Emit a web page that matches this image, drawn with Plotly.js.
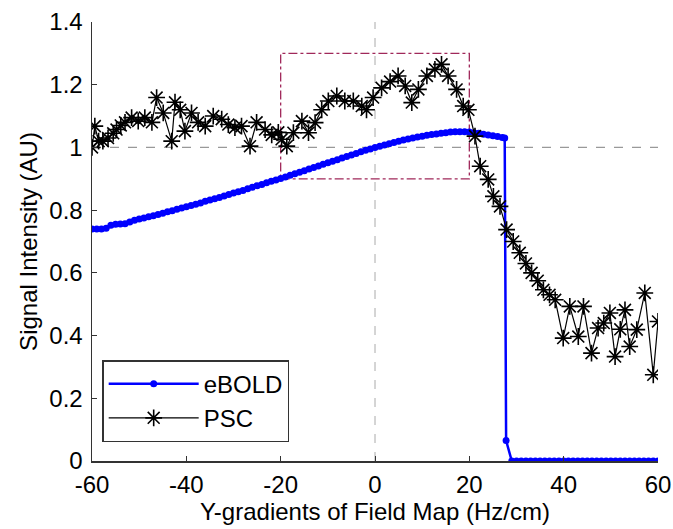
<!DOCTYPE html>
<html>
<head>
<meta charset="utf-8">
<script src="https://cdn.plot.ly/plotly-3.0.1.min.js"></script>
<style>html,body{margin:0;padding:0;background:#fff;}#chart{width:673px;height:529px;}</style>
</head>
<body>
<div id="chart"></div>
<script>
// ---- Data ----
const eboldX = [-60,-59,-58,-57,-56,-55,-54,-53,-52,-51,-50,-49,-48,-47,-46,-45,-44,-43,-42,-41,
  -40,-39,-38,-37,-36,-35,-34,-33,-32,-31,-30,-29,-28,-27,-26,-25,-24,-23,-22,-21,
  -20,-19,-18,-17,-16,-15,-14,-13,-12,-11,-10,-9,-8,-7,-6,-5,-4,-3,-2,-1,
  0,1,2,3,4,5,6,7,8,9,10,11,12,13,14,15,16,17,18,19,20,21,22,23,24,25,26,27,27.5,
  27.8,29,30,31,32,33,34,35,36,37,38,39,40,41,42,43,44,45,46,47,48,49,50,51,52,53,54,55,56,57,58,59,60];
const eboldY = [0.740,0.740,0.740,0.742,0.752,0.755,0.756,0.757,0.762,0.768,0.772,0.775,0.779,0.782,0.786,0.790,0.795,0.798,0.803,0.807,
  0.811,0.815,0.819,0.823,0.828,0.832,0.836,0.840,0.845,0.850,0.855,0.859,0.863,0.868,0.873,0.878,0.882,0.887,0.892,0.896,
  0.901,0.906,0.911,0.916,0.921,0.926,0.931,0.936,0.941,0.946,0.951,0.956,0.961,0.966,0.971,0.976,0.981,0.986,0.991,0.995,
  1.000,1.004,1.008,1.012,1.016,1.020,1.024,1.027,1.030,1.033,1.036,1.039,1.041,1.043,1.045,1.047,1.049,1.050,1.050,1.050,1.049,1.047,1.045,1.042,1.040,1.037,1.035,1.032,1.030,
  0.065,0,0,0,0,0,0,0,0,0,0,0,0,0,0,0,0,0,0,0,0,0,0,0,0,0,0,0,0,0,0,0,0];

const pscX = [-60,-59.4,-58.6,-57.7,-56.6,-55.5,-54.8,-53.9,-53,-51.6,-50.2,-48.8,-47.3,-46.3,-44.9,-43.1,-42.4,-41.3,-40.3,-38.9,
  -37.5,-36,-34.3,-32.5,-31.1,-29.7,-28.3,-26.5,-25.1,-23.3,-21.9,-20.5,-19.8,-18.7,-17.3,-15.5,-14.1,-12.7,-11.3,-9.9,
  -8.1,-6.4,-4.6,-2.8,-1.8,-0.4,1.4,3.2,4.9,6.4,7.8,9.2,11,12.7,14.1,15.5,17.3,18.7,19.8,21.2,
  22.3,24,25.1,26.5,27.9,29.3,30.7,32,33.2,34.5,35.7,37,38.2,39.9,41.3,43.1,44.2,45.9,47.3,48.5,
  49.8,50.9,52,53,54,55.5,57.2,59,60];
const pscY = [1.000,1.068,1.020,1.020,1.030,1.045,1.057,1.070,1.080,1.095,1.084,1.095,1.080,1.159,1.110,1.020,1.144,1.120,1.052,1.110,
  1.080,1.068,1.100,1.090,1.073,1.063,1.068,1.004,1.080,1.057,1.040,1.048,1.026,1.004,1.047,1.084,1.047,1.079,1.120,1.148,
  1.164,1.148,1.148,1.132,1.120,1.159,1.190,1.210,1.228,1.196,1.143,1.185,1.228,1.249,1.265,1.228,1.185,1.132,1.120,1.036,
  0.940,0.898,0.844,0.812,0.738,0.700,0.664,0.630,0.600,0.575,0.546,0.530,0.514,0.392,0.493,0.397,0.493,0.344,0.424,0.440,
  0.472,0.333,0.420,0.482,0.365,0.419,0.536,0.275,0.445];

const seriesNames = ['eBOLD', 'PSC'];
const xTicks = [-60, -40, -20, 0, 20, 40, 60];
const yTicks = [0, 0.2, 0.4, 0.6, 0.8, 1, 1.2, 1.4];
const yTickText = ['0', '0.2', '0.4', '0.6', '0.8', '1', '1.2', '1.4'];
const xTitle = 'Y-gradients of Field Map (Hz/cm)';
const yTitle = 'Signal Intensity (AU)';
// reference lines and zoom box (data units)
const refX = 0, refY = 1;
const boxX = [-20, 20], boxY = [0.9, 1.3];

const FONT = 'Liberation Sans, Arial, sans-serif';

const traces = [
  {
    x: eboldX, y: eboldY, name: seriesNames[0], type: 'scatter', mode: 'lines+markers',
    line: {color: '#0000ff', width: 2.5},
    marker: {color: '#0000ff', size: 7, symbol: 'circle'}
  },
  {
    x: pscX, y: pscY, name: seriesNames[1], type: 'scatter', mode: 'lines+markers',
    line: {color: '#000000', width: 1.2},
    marker: {symbol: 'asterisk-open', size: 14, color: '#000000', line: {color: '#000000', width: 1.6}}
  }
];

const layout = {
  width: 673, height: 529,
  margin: {l: 92, r: 15, t: 22, b: 68},
  paper_bgcolor: '#ffffff', plot_bgcolor: '#ffffff',
  font: {family: FONT, size: 24, color: '#000'},
  showlegend: true,
  legend: {
    x: 0.018, y: 0.23, xanchor: 'left', yanchor: 'top',
    bgcolor: '#ffffff', bordercolor: '#333333', borderwidth: 1.5,
    font: {family: FONT, size: 24, color: '#000'},
    itemwidth: 90
  },
  xaxis: {
    range: [-60, 60], tickvals: xTicks, ticktext: xTicks.map(String),
    showgrid: false, zeroline: false, showline: true, linecolor: '#333', linewidth: 1.5,
    ticks: 'inside', ticklen: 5, tickcolor: '#333', mirror: false,
    ticklabelstandoff: 2,
    tickfont: {family: FONT, size: 24, color: '#000'},
    title: {text: xTitle, font: {family: FONT, size: 24, color: '#000'}, standoff: 3}
  },
  yaxis: {
    range: [0, 1.4], tickvals: yTicks, ticktext: yTickText,
    showgrid: false, zeroline: false, showline: true, linecolor: '#333', linewidth: 1.5,
    ticks: 'inside', ticklen: 5, tickcolor: '#333', mirror: false,
    ticklabelstandoff: 3,
    tickfont: {family: FONT, size: 24, color: '#000'},
    title: {text: yTitle, font: {family: FONT, size: 24, color: '#000'}, standoff: 5}
  },
  shapes: [
    {type: 'line', xref: 'x', yref: 'y', x0: refX, x1: refX, y0: 0, y1: 1.4, layer: 'below',
     line: {color: '#aaaaaa', width: 1, dash: 'dash'}},
    {type: 'line', xref: 'x', yref: 'y', x0: -60, x1: 60, y0: refY, y1: refY, layer: 'below',
     line: {color: '#999999', width: 1.2, dash: 'dash'}},
    {type: 'rect', xref: 'x', yref: 'y', x0: boxX[0], x1: boxX[1], y0: boxY[0], y1: boxY[1], layer: 'below',
     line: {color: '#a0285a', width: 1.3, dash: 'dashdot'}}
  ]
};

Plotly.newPlot('chart', traces, layout, {displayModeBar: false, staticPlot: true});
</script>
</body>
</html>
